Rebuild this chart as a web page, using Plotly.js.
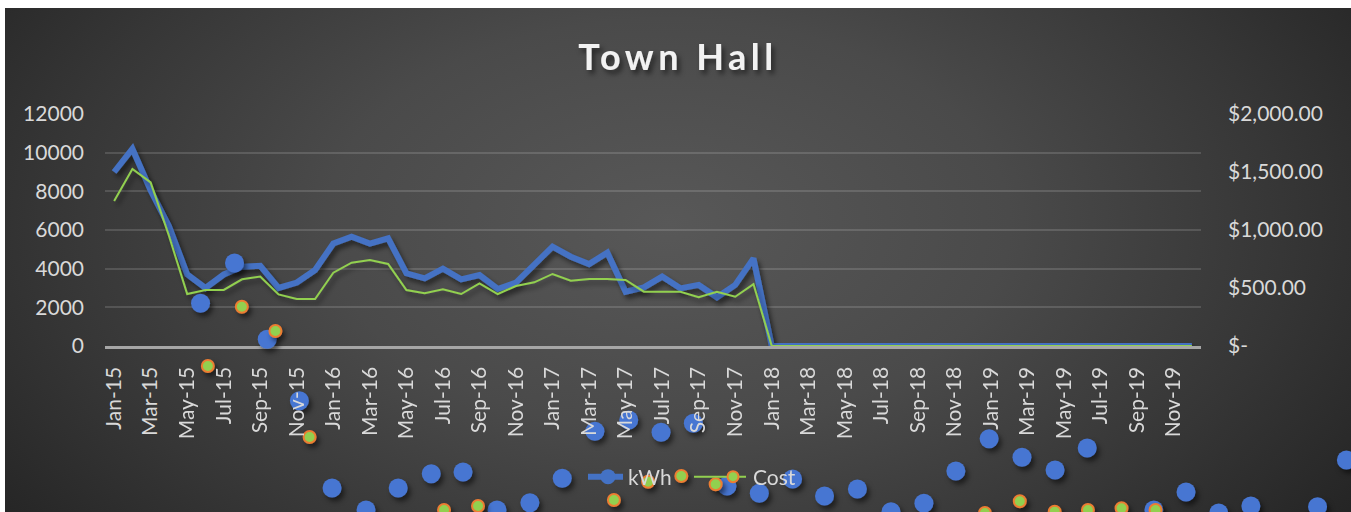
<!DOCTYPE html>
<html>
<head>
<meta charset="utf-8">
<script src="https://cdn.plot.ly/plotly-3.0.1.min.js"></script>
<style>
html,body{margin:0;padding:0;background:#fff;overflow:hidden;width:1351px;height:512px;}
#chart{position:absolute;left:5px;top:8px;width:1380px;height:540px;
  background:radial-gradient(ellipse 62% 95% at 48% 40%, #585858 0%, #4a4a4a 40%, #363636 72%, #232323 100%);}
#chart .gtitle{letter-spacing:4.5px;filter:url(#shadow);}
#chart .scatterlayer .trace{filter:url(#shadow);}
</style>
</head>
<body>
<svg width="0" height="0" style="position:absolute">
  <defs>
    <filter id="shadow" x="-10%" y="-10%" width="130%" height="140%">
      <feDropShadow dx="3" dy="4" stdDeviation="2.5" flood-color="#000" flood-opacity="0.5"/>
    </filter>
  </defs>
</svg>
<div id="chart"></div>
<script>
const months = ['Jan-15','Feb-15','Mar-15','Apr-15','May-15','Jun-15','Jul-15','Aug-15','Sep-15','Oct-15','Nov-15','Dec-15',
  'Jan-16','Feb-16','Mar-16','Apr-16','May-16','Jun-16','Jul-16','Aug-16','Sep-16','Oct-16','Nov-16','Dec-16',
  'Jan-17','Feb-17','Mar-17','Apr-17','May-17','Jun-17','Jul-17','Aug-17','Sep-17','Oct-17','Nov-17','Dec-17',
  'Jan-18','Feb-18','Mar-18','Apr-18','May-18','Jun-18','Jul-18','Aug-18','Sep-18','Oct-18','Nov-18','Dec-18',
  'Jan-19','Feb-19','Mar-19','Apr-19','May-19','Jun-19','Jul-19','Aug-19','Sep-19','Oct-19','Nov-19','Dec-19'];

const kwh = [9000,10200,8050,6200,3700,3000,3700,4100,4150,3000,3280,3930,
  5300,5650,5300,5570,3760,3500,4000,3450,3670,2950,3280,4190,
  5140,4620,4240,4830,2810,3030,3590,2980,3160,2520,3160,4530,
  0,0,0,0,0,0,0,0,0,0,0,0,
  0,0,0,0,0,0,0,0,0,0,0,0];

const cost = [1250,1526,1411,950,448,483,483,575,598,445,405,405,
  632,718,741,707,483,454,489,448,540,448,517,549,
  621,563,578,578,569,468,468,468,420,468,425,534,
  0,0,0,0,0,0,0,0,0,0,0,0,
  0,0,0,0,0,0,0,0,0,0,0,0];

// loose series markers that sit away from the lines (month position, value)
const strayKwhX = [4.73,6.59,8.38,10.14,11.93,13.79,15.55,17.36,19.10,20.96,22.76,24.53,26.32,28.17,29.94,31.71,33.55,
  35.32,37.14,38.89,40.69,42.53,44.33,46.08,47.90,49.70,51.51,53.27,56.92,58.68,60.47,62.23,65.88,67.46];
const strayKwhY = [2208,4293,347,-2830,-7344,-8482,-7344,-6605,-6517,-8482,-8104,-6843,-4412,-3827,-4463,-3998,-7240,
  -7618,-6879,-7758,-7396,-8570,-8136,-6465,-4794,-5756,-6413,-5275,-8482,-7551,-8637,-8275,-8311,-5896];
const strayCostX = [5.13,6.99,8.83,10.70,18.06,19.92,27.36,29.23,31.05,32.93,47.67,49.58,51.49,53.31,55.15,57.01];
const strayCostY = [-172,339,129,-784,-1414,-1379,-1327,-1170,-1121,-1192,-1440,-1339,-1428,-1414,-1399,-1414];

const kwhTicks = [0,2000,4000,6000,8000,10000,12000];
const costTicks = [0,500,1000,1500,2000];
const costTickText = ['$-','$500.00','$1,000.00','$1,500.00','$2,000.00'];

// page geometry
const W = 1380, H = 540, ML = 100, MT = 106, PW = 1096, PH = 232;
const paperW = W - ML, paperH = H - MT;
const pxPerMonth = PW / months.length;

const blue = '#4472c4', green = '#92d050', orange = '#ed7d31';
const tickFont = {family:'Lato', size:21, color:'#d9d9d9'};

const idx = months.map((m,i)=>i);
const tickIdx = idx.filter(i=>i%2==0);

var data = [
  {x:idx, y:kwh, type:'scatter', mode:'lines', name:'kWh', showlegend:false,
   line:{color:blue, width:6}, xaxis:'x', yaxis:'y'},
  {x:idx, y:cost, type:'scatter', mode:'lines', name:'Cost', showlegend:false,
   line:{color:green, width:2}, xaxis:'x', yaxis:'y2'},
  {x:strayKwhX, y:strayKwhY, type:'scatter', mode:'markers', showlegend:false, hoverinfo:'skip',
   marker:{size:19, color:'#4776d2'}, xaxis:'x3', yaxis:'y3'},
  {x:strayCostX, y:strayCostY, type:'scatter', mode:'markers', showlegend:false, hoverinfo:'skip',
   marker:{size:12, color:green, line:{color:orange, width:2}}, xaxis:'x3', yaxis:'y4'},
  {x:[null], y:[null], type:'scatter', mode:'lines+markers', name:'kWh',
   line:{color:blue, width:6}, marker:{size:15, color:blue}, xaxis:'x', yaxis:'y'},
  {x:[null], y:[null], type:'scatter', mode:'lines+markers', name:'Cost',
   line:{color:green, width:2}, marker:{size:11, color:green, line:{color:orange, width:2}}, xaxis:'x', yaxis:'y2'}
];

var layout = {
  width:W, height:H,
  margin:{l:ML, r:0, t:MT, b:0, pad:0},
  paper_bgcolor:'rgba(0,0,0,0)',
  plot_bgcolor:'rgba(0,0,0,0)',
  font:{family:'Lato', color:'#d9d9d9'},
  title:{text:'<b>Town Hall</b>', font:{family:'Lato', size:36, color:'#f2f2f2'},
    xref:'container', x:673/W, xanchor:'center', yref:'container', y:1-49/H, yanchor:'middle'},
  showlegend:true,
  legend:{orientation:'h', x:(583-ML)/paperW, xanchor:'left', y:(H-469)/paperH, yanchor:'middle',
    entrywidth:80, entrywidthmode:'pixels',
    font:{family:'Lato', size:21, color:'#d9d9d9'}, bgcolor:'rgba(0,0,0,0)'},
  xaxis:{domain:[0, PW/paperW], range:[-0.5, months.length-0.5], anchor:'y',
    tickmode:'array', tickvals:tickIdx, ticktext:tickIdx.map(i=>months[i]), tickangle:-90,
    showgrid:false, zeroline:false, showline:true, linecolor:'#a6a6a6', linewidth:2.5,
    ticks:'', tickfont:tickFont, ticklabelstandoff:10},
  yaxis:{domain:[1-PH/paperH, 1], range:[0,12000], anchor:'x', tickmode:'array', tickvals:kwhTicks,
    tickformat:'d',
    showgrid:true, gridcolor:'rgba(255,255,255,0.14)', gridwidth:2, zeroline:false, showline:false,
    ticks:'', tickfont:tickFont, ticklabelstandoff:20},
  yaxis2:{overlaying:'y', side:'right', anchor:'x', range:[0,2000], tickmode:'array',
    tickvals:costTicks, ticktext:costTickText, showgrid:false, zeroline:false, showline:false,
    ticks:'', tickfont:tickFont, ticklabelstandoff:26},
  xaxis3:{domain:[0,1], anchor:'y3', visible:false,
    range:[-0.5, -0.5 + paperW/pxPerMonth]},
  yaxis3:{domain:[0,1], anchor:'x3', visible:false,
    range:[12000 - paperH*12000/PH, 12000]},
  yaxis4:{overlaying:'y3', anchor:'x3', visible:false,
    range:[2000 - paperH*2000/PH, 2000]}
};

Plotly.newPlot('chart', data, layout, {displayModeBar:false, staticPlot:true}).then(gd=>{
  // longer legend line samples, like the original
  var lines = gd.querySelectorAll('.legend .traces .legendlines path');
  if (lines[0]) lines[0].setAttribute('d','M-31,0h66');
  if (lines[1]) lines[1].setAttribute('d','M-19,0h52');
  // month labels sit above the loose markers
  var xl = gd.querySelector('.subplot.xy .xaxislayer-above');
  var cl = gd.querySelector('.cartesianlayer');
  if (xl && cl) cl.appendChild(xl);
});
</script>
</body>
</html>
